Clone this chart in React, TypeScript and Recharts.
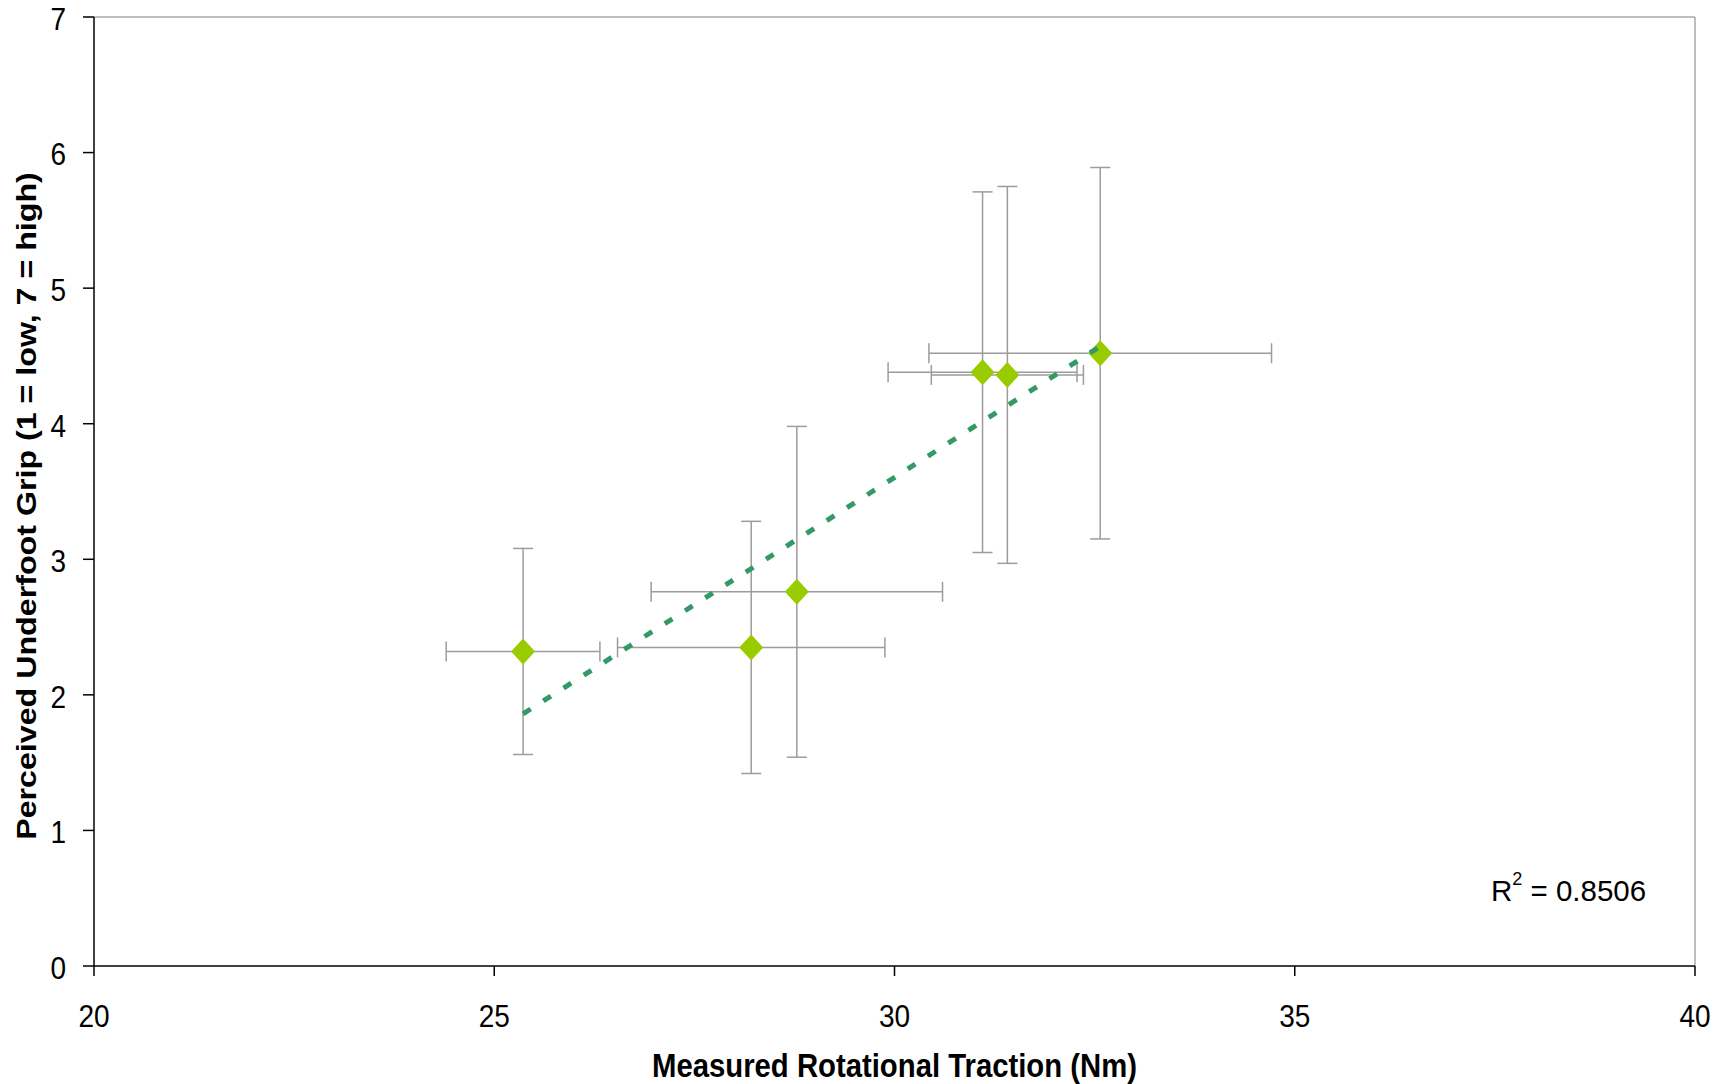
import { ErrorBar, Label, ReferenceLine, Scatter, ScatterChart, XAxis, YAxis } from "recharts";

// values
const tractionNm = [25.36, 28.21, 28.78, 31.1, 31.41, 32.57];
const tractionErr = [0.96, 1.67, 1.82, 1.18, 0.95, 2.14];
const gripRating = [2.32, 2.35, 2.76, 4.38, 4.36, 4.52];
const gripErr = [0.76, 0.93, 1.22, 1.33, 1.39, 1.37];

const trendX = [25.36, 32.57];
const trendY = [1.86, 4.57];

const xTicks = [20, 25, 30, 35, 40];
const yTicks = [0, 1, 2, 3, 4, 5, 6, 7];

const points = tractionNm.map((x, i) => ({
  x,
  y: gripRating[i],
  ex: tractionErr[i],
  ey: gripErr[i],
}));
const trend = trendX.map((x, i) => ({ x, y: trendY[i] }));

const FONT = '"Liberation Sans", Arial, sans-serif';
const GREEN = "#99CC00";
const BAR = "#9C9C9C";
// the original picture is a little stretched vertically
const STRETCH = 1.13;
const TICK_FS = 28;

function Diamond(props: any) {
  const { cx, cy } = props;
  if (cx == null || cy == null) return null;
  const w = 12;
  const h = 13;
  return (
    <polygon
      points={`${cx},${cy - h} ${cx + w},${cy} ${cx},${cy + h} ${cx - w},${cy}`}
      fill={GREEN}
    />
  );
}

function XTick(props: any) {
  const { x, y, payload } = props;
  const base = y + TICK_FS * 0.716 * STRETCH;
  return (
    <text
      transform={`translate(${x},${base}) scale(1,${STRETCH})`}
      textAnchor="middle"
      fill="#000"
      fontSize={TICK_FS}
      fontFamily={FONT}
    >
      {payload.value}
    </text>
  );
}

function YTick(props: any) {
  const { x, y, payload } = props;
  const base = y + (TICK_FS * 0.716 * STRETCH) / 2 + 1.5;
  return (
    <text
      transform={`translate(${x},${base}) scale(1,${STRETCH})`}
      textAnchor="end"
      fill="#000"
      fontSize={TICK_FS}
      fontFamily={FONT}
    >
      {payload.value}
    </text>
  );
}

export default function App() {
  return (
    <div style={{ position: "absolute", left: 0, top: 0, width: 1725, height: 1084, background: "#fff" }}>
      <ScatterChart width={1725} height={1084} margin={{ top: 17, right: 30, bottom: 0, left: 0 }}>
        <XAxis
          type="number"
          dataKey="x"
          domain={[20, 40]}
          ticks={xTicks}
          allowDataOverflow
          height={118}
          tickSize={10}
          tickMargin={28}
          tick={<XTick />}
          axisLine={{ stroke: "#000", strokeWidth: 1.5 }}
          tickLine={{ stroke: "#000", strokeWidth: 1.5 }}
        >
          <Label
            content={() => (
              <text
                transform={`translate(894.5,1077) scale(1,${STRETCH})`}
                textAnchor="middle"
                style={{ fill: "#000", fontSize: 29.3, fontWeight: 700, fontFamily: FONT }}
              >
                Measured Rotational Traction (Nm)
              </text>
            )}
          />
        </XAxis>
        <YAxis
          type="number"
          dataKey="y"
          domain={[0, 7]}
          ticks={yTicks}
          allowDataOverflow
          width={94}
          tickSize={11}
          tickMargin={17}
          tick={<YTick />}
          axisLine={{ stroke: "#000", strokeWidth: 1.5 }}
          tickLine={{ stroke: "#000", strokeWidth: 1.5 }}
        >
          <Label
            content={() => (
              <text
                transform={`translate(35.5,506) scale(1,${STRETCH}) rotate(-90)`}
                textAnchor="middle"
                style={{ fill: "#000", fontSize: 28.5, fontWeight: 700, fontFamily: FONT }}
              >
                Perceived Underfoot Grip (1 = low, 7 = high)
              </text>
            )}
          />
        </YAxis>
        <ReferenceLine y={7} stroke="#A8A8A8" strokeWidth={1.5} />
        <ReferenceLine x={40} stroke="#A8A8A8" strokeWidth={1.5} />
        <Scatter data={points} shape={<Diamond />} isAnimationActive={false}>
          <ErrorBar dataKey="ey" direction="y" width={10} stroke={BAR} strokeWidth={1.5} />
          <ErrorBar dataKey="ex" direction="x" width={10} stroke={BAR} strokeWidth={1.5} />
        </Scatter>
        <Scatter
          data={trend}
          line={{ stroke: "#339966", strokeWidth: 5, strokeDasharray: "9 15" }}
          shape={() => <g />}
          isAnimationActive={false}
        />
      </ScatterChart>
      <div
        style={{
          position: "absolute",
          left: 1491,
          top: 876,
          fontFamily: FONT,
          fontSize: 29.5,
          lineHeight: 1,
          color: "#000",
          whiteSpace: "nowrap",
        }}
      >
        R<span style={{ fontSize: 18, position: "relative", top: -16 }}>2</span> = 0.8506
      </div>
    </div>
  );
}
